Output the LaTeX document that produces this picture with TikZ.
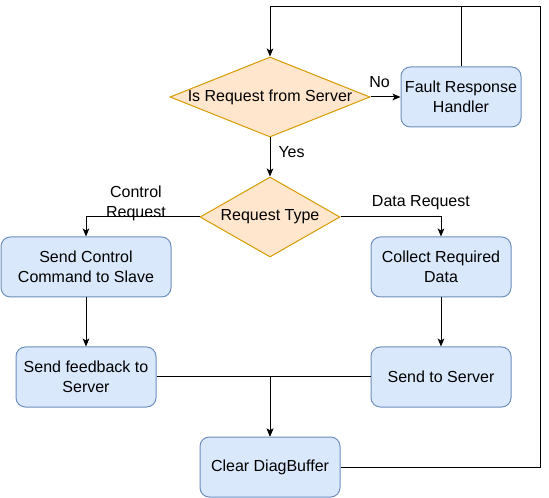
\documentclass[tikz,border=0pt]{standalone}
\usepackage{fontspec}
\setmainfont{Liberation Sans}
\usetikzlibrary{shapes.geometric,arrows.meta}

\tikzset{
  procbox/.style={draw={rgb,255:red,108;green,142;blue,191}, fill={rgb,255:red,218;green,232;blue,252},
    rounded corners=7pt, minimum width=105pt, minimum height=45pt, align=center, line width=0.75pt},
  decision/.style={diamond, draw={rgb,255:red,215;green,155;blue,0}, fill={rgb,255:red,255;green,230;blue,204},
    inner sep=0pt, line width=0.75pt},
  flow/.style={line width=0.75pt, -{Stealth[length=6pt,width=5pt,inset=1.5pt]}},
  edgelabel/.style={font=\fontsize{12}{15}\selectfont, align=center, inner sep=0pt}
}

\begin{document}
\begin{tikzpicture}[x=0.75pt,y=0.75pt,yscale=-1,xscale=1, font=\fontsize{12}{15}\selectfont]
        \useasboundingbox (0,0) rectangle (549,498);

        % Decisions
        \node [decision, minimum width=150pt, minimum height=60pt, label={center:Is Request from Server}] (srvq) at (270,97) {};
        \node [decision, minimum width=105pt, minimum height=60pt, label={center:Request Type}] (reqtype) at (270,217) {};

        % Process boxes
        \node [procbox, minimum width=90pt, inner xsep=1pt] (fault) at (461,97) {Fault Response\\Handler};
        \node [procbox, minimum width=127.5pt] (ctrl) at (86,267) {Send Control\\Command to Slave};
        \node [procbox] (collect) at (441,267) {Collect Required\\Data};
        \node [procbox] (feedback) at (86,377) {Send feedback to\\Server};
        \node [procbox] (sendsrv) at (441,377) {Send to Server};
        \node [procbox] (clear) at (270,467) {Clear DiagBuffer};

        % Loop corner
        \coordinate (topright) at (540,7);

        % Connectors
        \draw [flow] (srvq) -- (fault) node [edgelabel, pos=0.3, yshift=11pt] {No};
        \draw [flow] (srvq) -- (reqtype) node [edgelabel, pos=0.38, right=6pt] {Yes};
        \draw [flow] (reqtype.west) -| (ctrl.north) node [edgelabel, pos=0.28, yshift=10.5pt] {Control\\Request};
        \draw [flow] (reqtype.east) -| (collect.north) node [edgelabel, pos=0.4, yshift=11pt] {Data Request};
        \draw [flow] (ctrl) -- (feedback);
        \draw [flow] (collect) -- (sendsrv);
        \draw [flow] (feedback.east) -| (clear.north);
        \draw [flow] (sendsrv.west) -| (clear.north);
        \draw [flow] (clear.east) -| (topright) -| (srvq.north);
        \draw [line width=0.75pt] (fault.north) -- (fault.north |- topright);
\end{tikzpicture}
\end{document}
